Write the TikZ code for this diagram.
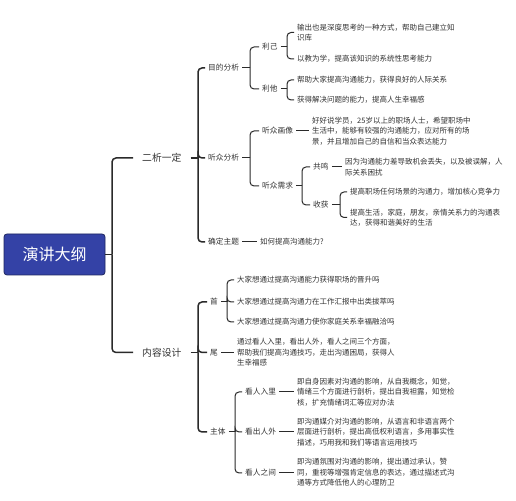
\documentclass[tikz,border=0pt]{standalone}
\usepackage{fontspec}
\setmainfont{Noto Sans CJK SC}
\definecolor{rootblue}{HTML}{3442A6}
\definecolor{rootedge}{HTML}{1E2660}
\definecolor{ink}{HTML}{333333}
\definecolor{conn}{HTML}{2A2A2A}
\tikzset{
  rootbox/.style={fill=rootblue,draw=rootedge,line width=0.8pt,rounded corners=3pt,
    minimum width=101pt,minimum height=41pt,text=white,inner sep=0pt,
    font=\fontsize{16}{18}\selectfont},
  lone/.style={anchor=west,text=ink,inner xsep=9pt,inner ysep=1pt,font=\fontsize{9.8}{12}\selectfont},
  lab/.style={anchor=west,text=ink,inner xsep=3pt,inner ysep=1pt,font=\fontsize{7.7}{10}\selectfont},
  txt/.style={anchor=west,text=ink,inner xsep=3pt,inner ysep=1pt,align=left,font=\fontsize{7.5}{10.5}\selectfont},
  thickc/.style={draw=conn,line width=1.5pt,rounded corners=4pt},
  thinc/.style={draw=conn,line width=1pt,rounded corners=4pt}
}
\begin{document}
\begin{tikzpicture}[x=1pt,y=1pt]
\useasboundingbox (0,0) rectangle (516,500);
\fill[white] (0,0) rectangle (516,500);
% spines
\coordinate (s0) at (112,0);
\coordinate (s1) at (198,0);
\coordinate (s2) at (250,0);
\coordinate (s3) at (287,0);
\coordinate (s4) at (302,0);
\coordinate (s5) at (340,0);
\coordinate (s6) at (227,0);
\coordinate (s7) at (235,0);
% nodes
\node[rootbox] (root) at (54.5,245.5) {演讲大纲};
\node[lone] (a) at (133,342) {二析一定};
\node[lone] (b) at (133,147.5) {内容设计};
\node[lab] (a1) at (205,432) {目的分析};
\node[lab] (a2) at (205,342) {听众分析};
\node[lab] (a3) at (205,258) {确定主题};
\node[lab] (a11) at (259,453) {利己};
\node[lab] (a12) at (259,411) {利他};
\node[txt] (a111) at (294,467.5) {输出也是深度思考的一种方式，帮助自己建立知\\识库};
\node[txt] (a112) at (294,441) {以教为学，提高该知识的系统性思考能力};
\node[txt] (a121) at (294,420) {帮助大家提高沟通能力，获得良好的人际关系};
\node[txt] (a122) at (294,400) {获得解决问题的能力，提高人生幸福感};
\node[lab] (a21) at (259,369) {听众画像};
\node[lab] (a22) at (259,314) {听众需求};
\node[txt] (a21d) at (309,369) {好好说学员，25岁以上的职场人士，希望职场中\\生活中，能够有较强的沟通能力，应对所有的场\\景，并且增加自己的自信和当众表达能力};
\node[lab] (a221) at (310,333) {共鸣};
\node[lab] (a222) at (310,295) {收获};
\node[txt] (a221d) at (342,333) {因为沟通能力差导致机会丢失，以及被误解，人\\际关系困扰};
\node[txt] (a2221) at (347,308) {提高职场任何场景的沟通力，增加核心竞争力};
\node[txt] (a2222) at (347,282.5) {提高生活，家庭，朋友，亲情关系力的沟通表\\达，获得和谐美好的生活};
\node[txt] (a3d) at (257,258) {如何提高沟通能力?};
\node[lab] (b1) at (207,198) {首};
\node[lab] (b2) at (207,147.5) {尾};
\node[lab] (b3) at (207,68) {主体};
\node[txt] (b11) at (234,220) {大家想通过提高沟通能力获得职场的晋升吗};
\node[txt] (b12) at (234,198) {大家想通过提高沟通力在工作汇报中出类拔萃吗};
\node[txt] (b13) at (234,178) {大家想通过提高沟通力使你家庭关系幸福融洽吗};
\node[txt] (b2d) at (234,147.5) {通过看人入里，看出人外，看人之间三个方面，\\帮助我们提高沟通技巧，走出沟通困局，获得人\\生幸福感};
\node[lab] (b31) at (242,108) {看人入里};
\node[lab] (b32) at (242,68) {看出人外};
\node[lab] (b33) at (242,27) {看人之间};
\node[txt] (b311) at (294,108) {即自身因素对沟通的影响，从自我概念，知觉，\\情绪三个方面进行剖析，提出自我袒露，知觉检\\核，扩充情绪词汇等应对办法};
\node[txt] (b321) at (294,68) {即沟通媒介对沟通的影响，从语言和非语言两个\\层面进行剖析，提出高低权利语言，多用事实性\\描述，巧用我和我们等语言运用技巧};
\node[txt] (b331) at (294,27.5) {即沟通氛围对沟通的影响，提出通过承认，赞\\同，重视等增强肯定信息的表达，通过描述式沟\\通等方式降低他人的心理防卫};
% connectors level 0
\draw[thinc] (root.east) -- (root.east -| s0);
\foreach \c in {a,b} \draw[thickc] (root.east -| s0) |- (\c.west);
% level 1
\draw[thickc] (a.east) -- (a.east -| s1);
\foreach \c in {a1,a2,a3} \draw[thickc] (a.east -| s1) |- (\c.west);
\draw[thickc] (b.east) -- (b.east -| s1);
\foreach \c in {b1,b2,b3} \draw[thickc] (b.east -| s1) |- (\c.west);
% level 2+
\draw[thinc] (a1.east) -- (a1.east -| s2);
\foreach \c in {a11,a12} \draw[thinc] (a1.east -| s2) |- (\c.west);
\draw[thinc] (a11.east) -- (a11.east -| s3);
\foreach \c in {a111,a112} \draw[thinc] (a11.east -| s3) |- (\c.west);
\draw[thinc] (a12.east) -- (a12.east -| s3);
\foreach \c in {a121,a122} \draw[thinc] (a12.east -| s3) |- (\c.west);
\draw[thinc] (a2.east) -- (a2.east -| s2);
\foreach \c in {a21,a22} \draw[thinc] (a2.east -| s2) |- (\c.west);
\draw[thinc] (a21.east) -- (a21.east -| a21d.west);
\draw[thinc] (a22.east) -- (a22.east -| s4);
\foreach \c in {a221,a222} \draw[thinc] (a22.east -| s4) |- (\c.west);
\draw[thinc] (a221.east) -- (a221.east -| a221d.west);
\draw[thinc] (a222.east) -- (a222.east -| s5);
\foreach \c in {a2221,a2222} \draw[thinc] (a222.east -| s5) |- (\c.west);
\draw[thinc] (a3.east) -- (a3.east -| a3d.west);
\draw[thinc] (b1.east) -- (b1.east -| s6);
\foreach \c in {b11,b12,b13} \draw[thinc] (b1.east -| s6) |- (\c.west);
\draw[thinc] (b2.east) -- (b2.east -| b2d.west);
\draw[thinc] (b3.east) -- (b3.east -| s7);
\foreach \c in {b31,b32,b33} \draw[thinc] (b3.east -| s7) |- (\c.west);
\draw[thinc] (b31.east) -- (b31.east -| b311.west);
\draw[thinc] (b32.east) -- (b32.east -| b321.west);
\draw[thinc] (b33.east) -- (b33.east -| b331.west);
\end{tikzpicture}
\end{document}
